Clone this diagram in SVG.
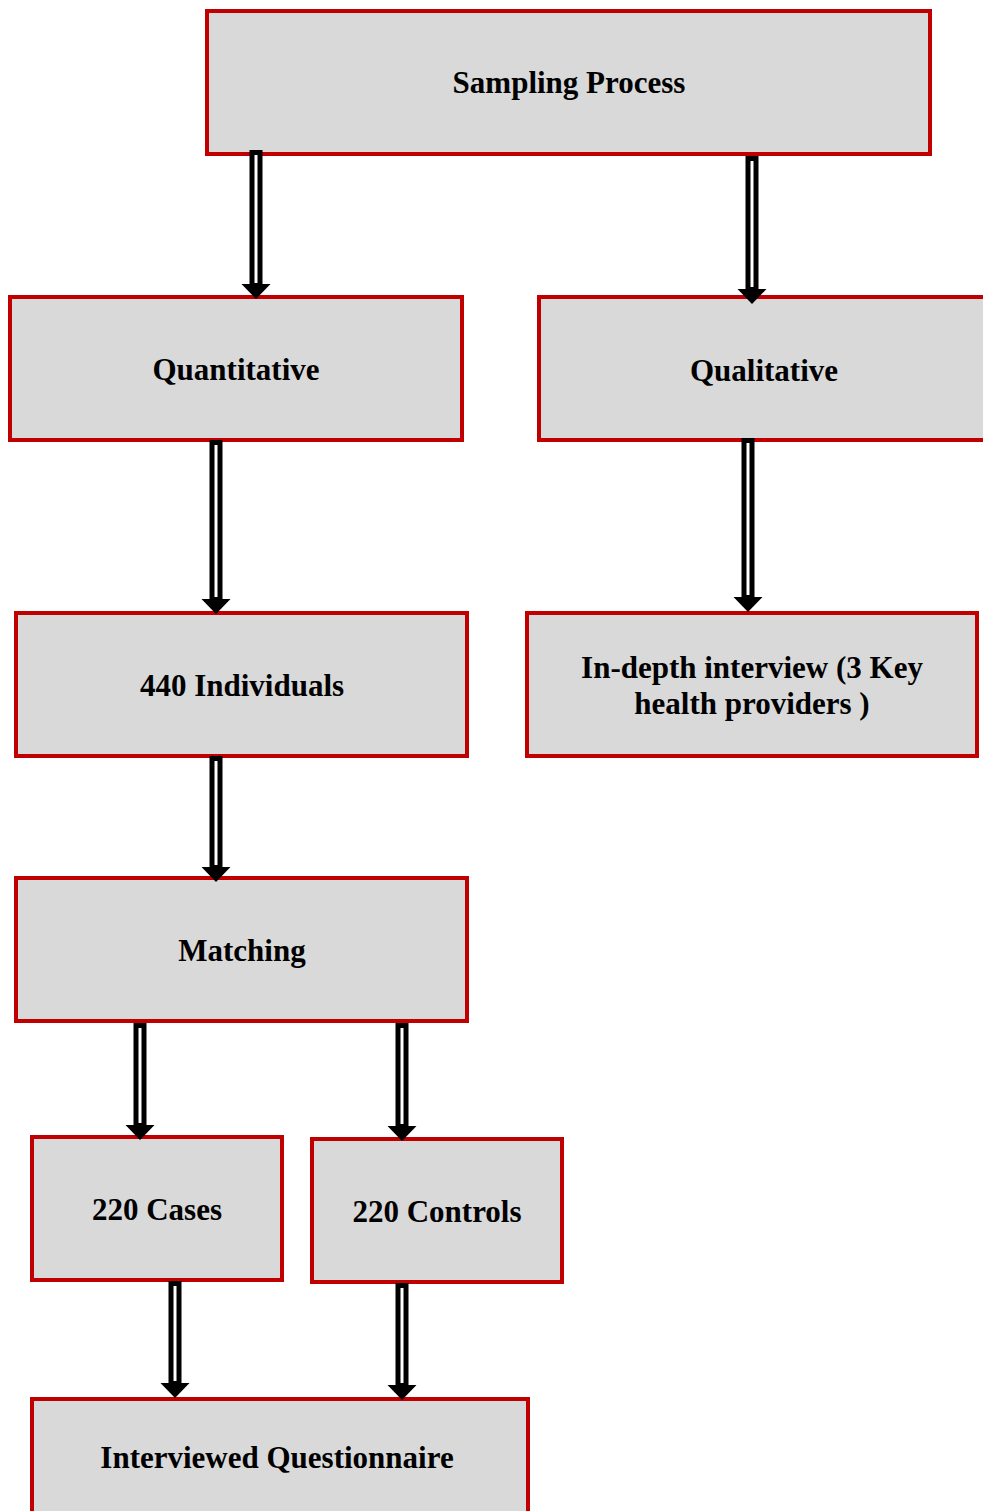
<svg xmlns="http://www.w3.org/2000/svg" width="983" height="1511" viewBox="0 0 983 1511">
  <style>
    .box { fill: #d9d9d9; stroke: #c00000; stroke-width: 4; }
    .label { font-family: "Liberation Serif", "Times New Roman", serif; font-weight: bold; font-size: 31px; fill: #000; text-anchor: middle; }
    .shaft { fill: #fff; stroke: #000; stroke-width: 5; }
    .head { fill: #000; stroke: none; }
  </style>
  <rect width="983" height="1511" fill="#fff"/>

  <g id="sampling-process">
    <rect class="box" x="207" y="11" width="723" height="143"/>
    <text class="label" x="569" y="93">Sampling Process</text>
  </g>
  <g id="quantitative">
    <rect class="box" x="10" y="297" width="452" height="143"/>
    <text class="label" x="236" y="380">Quantitative</text>
  </g>
  <g id="qualitative">
    <rect class="box" x="539" y="297" width="460" height="143"/>
    <text class="label" x="764" y="381">Qualitative</text>
  </g>
  <g id="individuals">
    <rect class="box" x="16" y="613" width="451" height="143"/>
    <text class="label" x="242" y="696">440 Individuals</text>
  </g>
  <g id="in-depth-interview">
    <rect class="box" x="527" y="613" width="450" height="143"/>
    <text class="label" x="752" y="678">In-depth interview (3 Key</text>
    <text class="label" x="752" y="714">health providers )</text>
  </g>
  <g id="matching">
    <rect class="box" x="16" y="878" width="451" height="143"/>
    <text class="label" x="242" y="961">Matching</text>
  </g>
  <g id="cases">
    <rect class="box" x="32" y="1137" width="250" height="143"/>
    <text class="label" x="157" y="1220">220 Cases</text>
  </g>
  <g id="controls">
    <rect class="box" x="312" y="1139" width="250" height="143"/>
    <text class="label" x="437" y="1222">220 Controls</text>
  </g>
  <g id="questionnaire">
    <rect class="box" x="32" y="1399" width="496" height="140"/>
    <text class="label" x="277" y="1468">Interviewed Questionnaire</text>
  </g>

  <g id="connectors">
    <!-- each arrow: hollow shaft + solid head, drawn over the box borders -->
    <g id="a1"><rect class="shaft" x="252" y="152.5" width="8" height="133"/><polygon class="head" points="241.5,284 270.5,284 256,299"/></g>
    <g id="a2"><rect class="shaft" x="748" y="158.5" width="8" height="131"/><polygon class="head" points="737.5,289 766.5,289 752,304"/></g>
    <g id="a3"><rect class="shaft" x="212" y="442.5" width="8" height="157"/><polygon class="head" points="201.5,599 230.5,599 216,614"/></g>
    <g id="a4"><rect class="shaft" x="744" y="440.5" width="8" height="157"/><polygon class="head" points="733.5,597 762.5,597 748,612"/></g>
    <g id="a5"><rect class="shaft" x="212" y="758.5" width="8" height="109"/><polygon class="head" points="201.5,867 230.5,867 216,882"/></g>
    <g id="a6"><rect class="shaft" x="136" y="1025.5" width="8" height="100"/><polygon class="head" points="125.5,1125 154.5,1125 140,1140"/></g>
    <g id="a7"><rect class="shaft" x="398" y="1025.5" width="8" height="101"/><polygon class="head" points="387.5,1126 416.5,1126 402,1141"/></g>
    <g id="a8"><rect class="shaft" x="171" y="1283.5" width="8" height="100"/><polygon class="head" points="160.5,1383 189.5,1383 175,1398"/></g>
    <g id="a9"><rect class="shaft" x="398" y="1285.5" width="8" height="100"/><polygon class="head" points="387.5,1385 416.5,1385 402,1400"/></g>
  </g>
</svg>
